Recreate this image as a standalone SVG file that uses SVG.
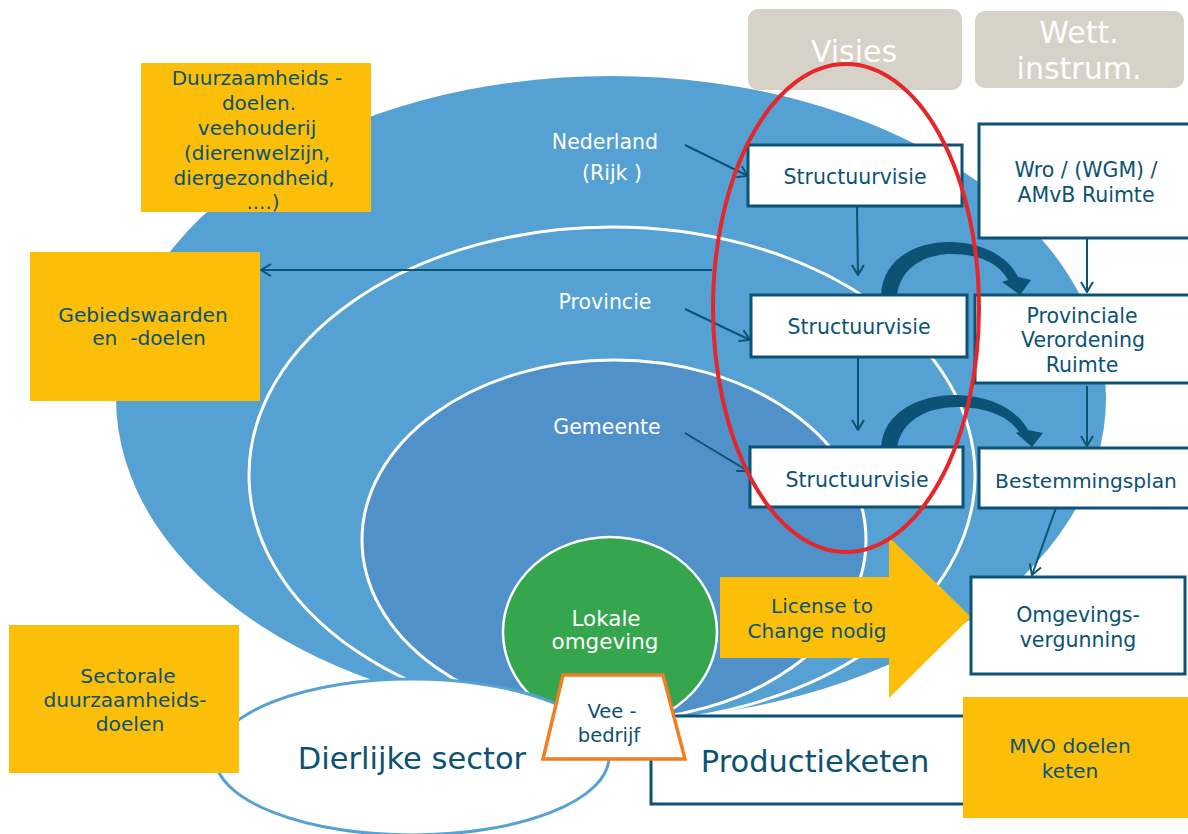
<svg xmlns="http://www.w3.org/2000/svg" width="1188" height="834" viewBox="0 0 1188 834">
<defs>
<style>
.t{font-family:"DejaVu Sans","Verdana","Liberation Sans",sans-serif;fill:#0B5274;text-anchor:middle}
.w{font-family:"DejaVu Sans","Verdana","Liberation Sans",sans-serif;fill:#FFFFFF;text-anchor:middle}
.box{fill:#FFFFFF;stroke:#0B5274;stroke-width:3}
.yel{fill:#FBBF09}
.con{stroke:#0B5274;stroke-width:2;fill:none}
.grey{fill:#D6D2C7}
</style>
<marker id="ah" viewBox="0 0 12 14" refX="11" refY="7" markerWidth="12" markerHeight="14" markerUnits="userSpaceOnUse" orient="auto">
<path d="M1,1 L11,7 L1,13" fill="none" stroke="#0B5274" stroke-width="2"/>
</marker>
</defs>
<rect width="1188" height="834" fill="#FFFFFF"/>

<g id="levels">
<ellipse cx="611" cy="398" rx="495" ry="322" fill="#55A1D3"/>
<ellipse cx="612" cy="475" rx="363" ry="248" fill="#55A1D3" stroke="#FFFFFF" stroke-width="3"/>
<ellipse cx="614" cy="540" rx="252" ry="180" fill="#4F91C8" stroke="#FFFFFF" stroke-width="3"/>
<text class="w" font-size="20.5" x="605" y="149">Nederland</text>
<text class="w" font-size="20.5" x="612" y="180">(Rijk )</text>
<text class="w" font-size="20.5" x="605" y="309">Provincie</text>
<text class="w" font-size="20.5" x="607" y="434">Gemeente</text>
</g>

<g id="lokale">
<ellipse cx="610" cy="632" rx="107" ry="95" fill="#35A64D" stroke="#FFFFFF" stroke-width="2.5"/>
<text class="w" font-size="21.5" x="606" y="626">Lokale</text>
<text class="w" font-size="21.5" x="605" y="649">omgeving</text>
</g>

<g id="dierlijke">
<ellipse cx="412" cy="757" rx="197" ry="78" fill="#FFFFFF" stroke="#55A1D3" stroke-width="3"/>
<text class="t" font-size="30.5" x="412" y="769">Dierlijke sector</text>
</g>

<g id="productieketen">
<rect class="box" x="651" y="716" width="330" height="88"/>
<text class="t" font-size="30.5" x="815" y="772">Productieketen</text>
</g>

<g id="veebedrijf">
<polygon points="563,675 663,675 685,759 543,759" fill="#FFFFFF" stroke="#F07E23" stroke-width="3.5"/>
<text class="t" font-size="19.5" x="612" y="718">Vee -</text>
<text class="t" font-size="19.5" x="609" y="742">bedrijf</text>
</g>

<g id="license">
<polygon class="yel" points="720,577 889,577 889,537 971,617 889,698 889,658 720,658"/>
<text class="t" font-size="20" x="822" y="613">License to</text>
<text class="t" font-size="20" x="817" y="638">Change nodig</text>
</g>

<g id="connectors">
<line class="con" x1="685" y1="145" x2="748" y2="176" marker-end="url(#ah)"/>
<line class="con" x1="685" y1="309" x2="750" y2="340" marker-end="url(#ah)"/>
<line class="con" x1="685" y1="433" x2="748" y2="471" marker-end="url(#ah)"/>
<line class="con" x1="857" y1="206" x2="858" y2="275" marker-end="url(#ah)"/>
<line class="con" x1="858" y1="357" x2="858" y2="430" marker-end="url(#ah)"/>
<line class="con" x1="1087" y1="238" x2="1087" y2="292" marker-end="url(#ah)"/>
<line class="con" x1="1087" y1="386" x2="1087" y2="446" marker-end="url(#ah)"/>
<line class="con" x1="1057" y1="505" x2="1032" y2="575" marker-end="url(#ah)"/>
<line class="con" x1="712" y1="270" x2="261" y2="270" marker-end="url(#ah)"/>
<path d="M881,295 C883,256 920,241 952,242 C985,243 1009,258 1018,277 L1031,280 L1020,295 L1002,282 L1008,280 C999,263 978,254 952,254 C925,254 901,267 897,295 Z" fill="#0B5274"/>
<path d="M881,448 C883,409 925,394 957,395 C993,396 1018,411 1028,430 L1043,433 L1032,447 L1016,433 L1019,432 C1009,416 985,407 957,407 C928,407 901,420 897,448 Z" fill="#0B5274"/>
</g>

<g id="visies">
<rect class="grey" x="748" y="9" width="214" height="81" rx="10"/>
<text class="w" font-size="30" x="854" y="62">Visies</text>
</g>
<g id="wett">
<rect class="grey" x="975" y="11" width="209" height="77" rx="10"/>
<text class="w" font-size="30" x="1079" y="43">Wett.</text>
<text class="w" font-size="30" x="1079" y="79">instrum.</text>
</g>

<g id="sv1">
<rect class="box" x="748" y="145" width="214" height="61"/>
<text class="t" font-size="20.5" x="855" y="184">Structuurvisie</text>
</g>
<g id="sv2">
<rect class="box" x="751" y="295" width="216" height="62"/>
<text class="t" font-size="20.5" x="859" y="334">Structuurvisie</text>
</g>
<g id="sv3">
<rect class="box" x="750" y="447" width="213" height="60"/>
<text class="t" font-size="20.5" x="857" y="487">Structuurvisie</text>
</g>

<g id="wro">
<rect class="box" x="979" y="124" width="215" height="114"/>
<text class="t" font-size="20.5" x="1086" y="177">Wro / (WGM) /</text>
<text class="t" font-size="20.5" x="1086" y="202">AMvB Ruimte</text>
</g>
<g id="pvr">
<rect class="box" x="975" y="295" width="219" height="88"/>
<text class="t" font-size="20.5" x="1082" y="323">Provinciale</text>
<text class="t" font-size="20.5" x="1083" y="347">Verordening</text>
<text class="t" font-size="20.5" x="1082" y="372">Ruimte</text>
</g>
<g id="bestemmingsplan">
<rect class="box" x="979" y="448" width="215" height="60"/>
<text class="t" font-size="20.2" x="1086" y="488">Bestemmingsplan</text>
</g>
<g id="omgevingsvergunning">
<rect class="box" x="971" y="577" width="214" height="97"/>
<text class="t" font-size="20.5" x="1078" y="622">Omgevings-</text>
<text class="t" font-size="20.5" x="1078" y="647">vergunning</text>
</g>

<g id="mvo">
<rect class="yel" x="963" y="697" width="225" height="121"/>
<text class="t" font-size="20.2" x="1070" y="753">MVO doelen</text>
<text class="t" font-size="20.2" x="1070" y="778">keten</text>
</g>

<g id="duurzaamheid">
<rect class="yel" x="141" y="63" width="230" height="149"/>
<text class="t" font-size="20" x="257" y="85">Duurzaamheids -</text>
<text class="t" font-size="20" x="259" y="110">doelen.</text>
<text class="t" font-size="20" x="257" y="135">veehouderij</text>
<text class="t" font-size="20" x="257" y="160">(dierenwelzijn,</text>
<text class="t" font-size="20" x="254" y="185">diergezondheid,</text>
<text class="t" font-size="20" x="263" y="209">....)</text>
</g>

<g id="gebiedswaarden">
<rect class="yel" x="30" y="252" width="230" height="149"/>
<text class="t" font-size="20.2" x="143" y="322">Gebiedswaarden</text>
<text class="t" font-size="20.2" x="149" y="345" xml:space="preserve">en  -doelen</text>
</g>

<g id="sectorale">
<rect class="yel" x="9" y="625" width="230" height="148"/>
<text class="t" font-size="20.2" x="128" y="683">Sectorale</text>
<text class="t" font-size="20.2" x="125" y="707">duurzaamheids-</text>
<text class="t" font-size="20.2" x="130" y="731">doelen</text>
</g>

<g id="focus">
<ellipse cx="846" cy="308" rx="133" ry="244" fill="none" stroke="#E5262B" stroke-width="4"/>
</g>
</svg>
